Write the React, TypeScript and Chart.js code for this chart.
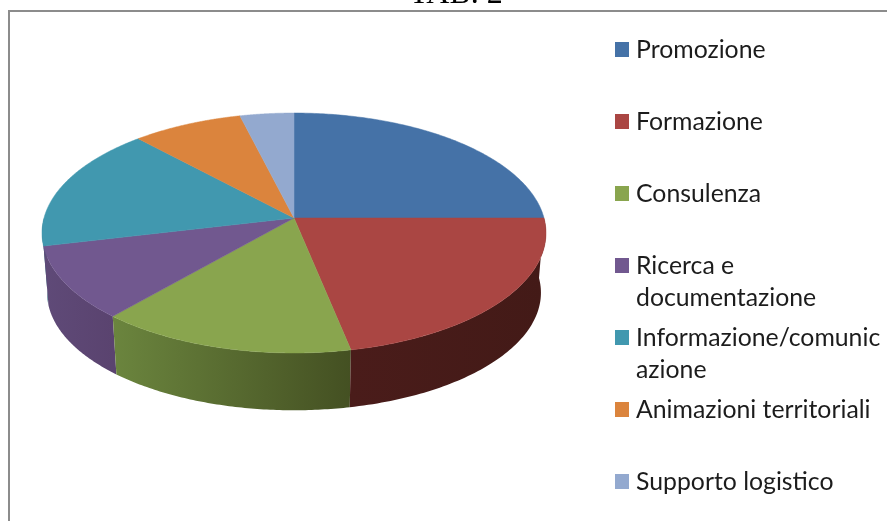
import React, { useEffect, useRef } from "react";
import { Chart, registerables } from "chart.js";

Chart.register(...registerables);

const categories = [
  "Promozione",
  "Formazione",
  "Consulenza",
  "Ricerca e documentazione",
  "Informazione/comunicazione",
  "Animazioni territoriali",
  "Supporto logistico",
];
const values = [25, 21.8, 14.6, 9.9, 16.8, 8, 3.9];
const topColors = ["#4572A7", "#AA4643", "#89A54E", "#71588F", "#4198AF", "#DB843D", "#93A9CF"];
const sideLeft = ["#2f4f75", "#4a1c1a", "#6b853e", "#5f4a78", "#2e6c7c", "#9c5e2b", "#6a7a96"];
const sideRight = ["#2f4f75", "#431a17", "#445022", "#5a436f", "#2e6c7c", "#9c5e2b", "#6a7a96"];
const legendLines = [
  ["Promozione"],
  ["Formazione"],
  ["Consulenza"],
  ["Ricerca e", "documentazione"],
  ["Informazione/comunic", "azione"],
  ["Animazioni territoriali"],
  ["Supporto logistico"],
];

const APEX_X = 294;
const APEX_Y = 218;
const SIDE_SCALE = 0.98;
const SIDE_DROP = 60;

// Perspective mapping of the unit disk on to the tilted pie top.
function project(angle: number, scale = 1, drop = 0) {
  const u = Math.cos(angle);
  const v = Math.sin(angle);
  const w = 1 - 0.125 * v;
  return {
    x: APEX_X + (scale * 250 * u) / w,
    y: APEX_Y + drop + (scale * 118.1 * v) / w,
  };
}

const pie3d = {
  id: "pie3d",
  beforeDatasetDraw() {
    return false;
  },
  afterDatasetsDraw(chart: any) {
    const { ctx } = chart;
    const arcs = chart.getDatasetMeta(0).data;
    ctx.save();
    // side wall (only the part facing the viewer)
    const front = arcs
      .map((arc: any, i: number) => ({ arc, i }))
      .filter(({ arc }: any) => arc.startAngle < Math.PI && arc.endAngle > 0.05)
      .sort((a: any, b: any) => b.arc.startAngle - a.arc.startAngle);
    for (const { arc, i } of front) {
      const a0 = Math.max(arc.startAngle, 0);
      const a1 = Math.min(arc.endAngle, Math.PI);
      const steps = 80;
      const first = project(a0);
      const last = project(a1);
      ctx.beginPath();
      for (let s = 0; s <= steps; s++) {
        const p = project(a0 + ((a1 - a0) * s) / steps);
        if (s === 0) ctx.moveTo(p.x, p.y);
        else ctx.lineTo(p.x, p.y);
      }
      for (let s = steps; s >= 0; s--) {
        const p = project(a0 + ((a1 - a0) * s) / steps, SIDE_SCALE, SIDE_DROP);
        ctx.lineTo(p.x, p.y);
      }
      ctx.closePath();
      const g = ctx.createLinearGradient(Math.min(first.x, last.x), 0, Math.max(first.x, last.x), 0);
      g.addColorStop(0, sideLeft[i]);
      g.addColorStop(1, sideRight[i]);
      ctx.fillStyle = g;
      ctx.fill();
    }
    // top face
    arcs.forEach((arc: any, i: number) => {
      const steps = 120;
      ctx.beginPath();
      ctx.moveTo(APEX_X, APEX_Y);
      for (let s = 0; s <= steps; s++) {
        const p = project(arc.startAngle + ((arc.endAngle - arc.startAngle) * s) / steps);
        ctx.lineTo(p.x, p.y);
      }
      ctx.closePath();
      ctx.fillStyle = topColors[i];
      ctx.strokeStyle = topColors[i];
      ctx.lineWidth = 0.5;
      ctx.fill();
      ctx.stroke();
    });
    ctx.restore();
  },
};

const frameAndLegend = {
  id: "frameAndLegend",
  afterDraw(chart: any) {
    const { ctx } = chart;
    ctx.save();
    ctx.fillStyle = "#8c8c8c";
    ctx.fillRect(8, 10, 879, 2);
    ctx.fillRect(8, 10, 2, 511);
    ctx.fillStyle = "#000000";
    ctx.font = '32px "Liberation Serif"';
    ctx.textAlign = "center";
    ctx.textBaseline = "alphabetic";
    ctx.fillText("TAB. 2", 456, 3);
    ctx.textAlign = "left";
    ctx.textBaseline = "middle";
    ctx.font = '24.8px Lato';
    legendLines.forEach((lines, i) => {
      const y = 49 + i * 72;
      ctx.fillStyle = topColors[i];
      ctx.fillRect(615, y - 7, 14, 15);
      ctx.fillStyle = "#1c1c1c";
      lines.forEach((line, j) => ctx.fillText(line, 636, y + 1 + j * 32));
    });
    ctx.restore();
  },
};

export default function App() {
  const ref = useRef<HTMLCanvasElement>(null);
  useEffect(() => {
    const chart = new Chart(ref.current as HTMLCanvasElement, {
      type: "pie",
      data: {
        labels: categories,
        datasets: [{ data: values, backgroundColor: topColors, borderWidth: 0 }],
      },
      options: {
        animation: false,
        responsive: false,
        plugins: { legend: { display: false }, tooltip: { enabled: false } },
      },
      plugins: [pie3d, frameAndLegend],
    });
    return () => chart.destroy();
  }, []);
  return (
    <div style={{ position: "fixed", left: 0, top: 0, width: 887, height: 521, background: "#fff" }}>
      <canvas ref={ref} width={887} height={521} style={{ display: "block" }} />
    </div>
  );
}
